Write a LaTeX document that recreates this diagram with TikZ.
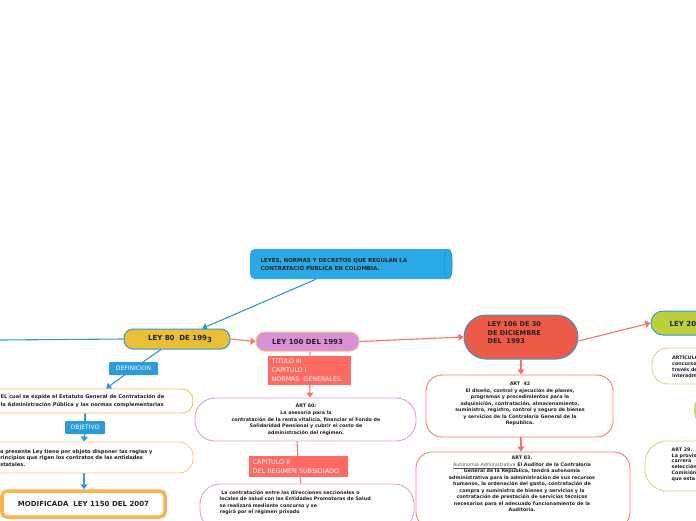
\documentclass[tikz,border=0pt]{standalone}
\usepackage{fontspec}
\setmainfont{DejaVu Sans}
\usetikzlibrary{arrows.meta}
\pgfdeclarelayer{back}
\pgfdeclarelayer{bg}
\pgfsetlayers{back,bg,main}
\definecolor{cblue}{HTML}{29AAE6}
\definecolor{capblue}{HTML}{1E8FC8}
\definecolor{lblue}{HTML}{2D9BDB}
\definecolor{gold}{HTML}{EBBF33}
\definecolor{orchid}{HTML}{D990D6}
\definecolor{orchidb}{HTML}{DCA0DB}
\definecolor{salmon}{HTML}{FA7268}
\definecolor{salmonb}{HTML}{F47E76}
\definecolor{labred}{HTML}{FF6B63}
\definecolor{redsix}{HTML}{EE5A48}
\definecolor{ygreen}{HTML}{BDD23A}
\definecolor{lgreen}{HTML}{C3E081}
\definecolor{goldb}{HTML}{EFC34F}
\definecolor{lorange}{HTML}{F8CB88}
\definecolor{orangeb}{HTML}{FDB24C}
\definecolor{peach}{HTML}{F3C27E}
\definecolor{txt}{HTML}{222222}
\definecolor{undergray}{HTML}{555555}
\begin{document}
\begin{tikzpicture}[x=1pt,y=-1pt,
  box/.style={draw, line width=0.9pt, fill=white, inner sep=0pt},
  leynode/.style={draw=lblue, line width=1pt, inner sep=0pt, text=txt, font=\bfseries\fontsize{7}{8.5}\selectfont},
  lab/.style={fill=labred, text=white, inner sep=0pt, font=\fontsize{5.8}{8.8}\selectfont},
  bluelab/.style={fill=lblue, text=white, inner sep=0pt, rounded corners=1pt, font=\fontsize{6}{7}\selectfont},
  ftext/.style={text=txt, inner sep=0pt, font=\bfseries\fontsize{4.8}{6.5}\selectfont},
  conn/.style={line width=1.1pt},
  tip/.style={-{Triangle[width=7pt,length=5pt]}}
]
\begin{pgfonlayer}{back}
\fill[white] (0,0) rectangle (696,520);
\end{pgfonlayer}
\useasboundingbox (0,0) rectangle (696,520);

% top node
\node[fill=cblue, rounded corners=5pt, minimum width=202pt, minimum height=30pt, inner sep=0pt] (top) at (351,264) {};
\draw[capblue, line width=0.6pt] ([xshift=-4pt]top.east) ellipse [x radius=4pt, y radius=15pt];
\node[anchor=west, align=left, text=txt, inner sep=0pt, font=\bfseries\fontsize{5.5}{8}\selectfont] (toptxt) at (260.5,264.7) {LEYES, NORMAS Y DECRETOS QUE REGULAN LA\\CONTRATACIÓ PUBLICA EN COLOMBIA.};

% main law nodes
\node[leynode, fill=gold, minimum width=106pt, minimum height=20pt, rounded corners=9pt] (ley80) at (177,339) {\hspace{6pt}LEY 80\ \ DE 199\raisebox{-0.35ex}{3}};
\node[leynode, draw=peach, fill=orchid, minimum width=103pt, minimum height=19pt, rounded corners=9pt] (ley100) at (307.5,341.5) {LEY 100 DEL 1993};
\node[leynode, fill=redsix, minimum width=114pt, minimum height=44pt, rounded corners=22pt] (ley106) at (521,337) {};
\node[anchor=west, align=left, text=txt, inner sep=0pt, font=\bfseries\fontsize{6.6}{8.5}\selectfont] (ley106t) at (487.5,333) {LEY 106 DE 30\\DE DICIEMBRE\\DEL\ \ 1993};
\node[leynode, fill=ygreen, minimum width=98pt, minimum height=24pt, rounded corners=12pt] (ley20) at (700,323) {};
\node[anchor=west, text=txt, inner sep=0pt, font=\bfseries\fontsize{7}{8.5}\selectfont] (ley20t) at (669.5,323.5) {LEY 20};

% left branch
\coordinate (lft) at (0,340);
\node[bluelab, minimum width=49pt, minimum height=13pt] (defi) at (133.5,368.5) {DEFINICION};
\node[box, draw=goldb, minimum width=213pt, minimum height=24pt, rounded corners=11pt] (box1) at (86.5,401) {};
\node[anchor=west, align=left, text=txt, inner sep=0pt, font=\bfseries\fontsize{5.1}{7.7}\selectfont] (box1t) at (0.5,401.2) {EL cual se expide el Estatuto General de Contratación de\\la Administración Pública y las normas complementarias};
\node[bluelab, minimum width=40pt, minimum height=13pt] (obj) at (85,427.5) {OBJETIVO};
\node[box, draw=lorange, minimum width=213pt, minimum height=31pt, rounded corners=14pt] (box2) at (86.5,457.5) {};
\node[anchor=west, align=left, text=txt, inner sep=0pt, font=\bfseries\fontsize{5.1}{6.6}\selectfont] (box2t) at (-3.4,457.8) {La presente Ley tiene por objeto disponer las reglas y\\principios que rigen los contratos de las entidades\\estatales.};
\node[box, draw=orangeb, line width=3.5pt, minimum width=163pt, minimum height=26pt, rounded corners=5pt, text=txt, font=\bfseries\fontsize{7}{8.5}\selectfont] (box3) at (83.5,504) {MODIFICADA\ \ LEY 1150 DEL 2007};

% LEY 100 branch
\node[lab, minimum width=83pt, minimum height=29pt] (tit) at (309.5,370.5) {};
\node[anchor=west, align=left, text=white, inner sep=0pt, font=\fontsize{6.3}{8.8}\selectfont] (titt) at (271.5,370) {TITULO III\\CAPITULO I\\NORMAS\ \ GENERALES.};
\node[box, draw=orchidb, minimum width=221pt, minimum height=43pt, rounded corners=20pt] (art60) at (305.5,419.5) {};
\node[ftext, align=center, font=\bfseries\fontsize{4.8}{6.7}\selectfont] (art60t) at (306,420) {ART 60:\\La asesoría para la\\contratación de la renta vitalicia, financiar el Fondo de\\Solidaridad Pensional y cubrir el costo de\\administración del régimen.};
\node[lab, minimum width=99pt, minimum height=21pt] (cap2) at (298.5,466.5) {};
\node[anchor=west, align=left, text=white, inner sep=0pt, font=\fontsize{6.4}{9}\selectfont] (cap2t) at (252.5,465.8) {CAPÍTULO II\\DEL REGIMEN SUBSIDIADO};
\node[box, draw=orchidb, minimum width=214pt, minimum height=46pt, rounded corners=20pt] (sub) at (307,507) {};
\node[ftext, anchor=west, align=left] (subt) at (219.5,502.4) {\ La contratación entre las direcciones seccionales o\\locales de salud con las Entidades Promotoras de Salud\\se realizará mediante concurso y se\\regirá por el régimen privado};

% LEY 106 branch
\node[box, draw=salmonb, minimum width=187pt, minimum height=62pt, rounded corners=16pt] (art42) at (519.5,406) {};
\node[ftext, align=center] (art42t) at (520,403.8) {ART\ \ 42\\El diseño, control y ejecución de planes,\\programas y procedimientos para la\\adquisición, contratación, almacenamiento,\\suministro, registro, control y seguro de bienes\\y servicios de la Contraloría General de la\\República.};
\node[box, draw=salmonb, minimum width=214pt, minimum height=76pt, rounded corners=16pt] (art83) at (523,490) {};
\node[ftext, align=center, font=\bfseries\fontsize{4.8}{6.45}\selectfont] (art83t) at (522,484) {ART 83.\\\textcolor{undergray}{\mdseries\underline{Autonomía Administrativa}} El Auditor de la Contraloría\\General de la República, tendrá autonomía\\administrativa para la administración de sus recursos\\humanos, la ordenación del gasto, contratación de\\compra y suministro de bienes y servicios y la\\contratación de prestación de servicios técnicos\\necesarios para el adecuado funcionamiento de la\\Auditoría.};

% right branch
\node[box, draw=lgreen, minimum width=96pt, minimum height=36pt, rounded corners=16pt] (artr1) at (700,366) {};
\node[ftext, anchor=west, align=left, font=\bfseries\fontsize{4.8}{6}\selectfont] (artr1t) at (672,366) {ARTÍCULO\\concurso\\través de\\interadmin};
\node[circle, fill=ygreen!85!white, minimum size=44pt, inner sep=0pt] (circ) at (716,410) {};
\node[box, draw=lgreen, minimum width=100pt, minimum height=50pt, rounded corners=22pt] (artr2) at (695,466) {};
\node[ftext, anchor=west, align=left, font=\bfseries\fontsize{4.8}{5.8}\selectfont] (artr2t) at (671.5,464.5) {ART 29.\\La provisión\\carrera\\selección\\Comisión\\que esta};

% connectors
\begin{pgfonlayer}{bg}
\draw[conn, lblue, tip] ([xshift=-35pt]top.south) -- ([xshift=25pt]ley80.north);
\draw[conn, lblue] (lft) -- (ley80.west);
\draw[conn, salmon, tip] (ley80.east) -- (ley100.west);
\draw[conn, salmon, tip] (ley100.east) -- ([yshift=0pt]ley106.west);
\draw[conn, salmon, tip] ([yshift=-4pt]ley106.east) -- (ley20.west);
\draw[conn, lblue] ([xshift=-16pt]ley80.south) -- (defi.center);
\draw[conn, lblue, tip] (defi.center) -- ([xshift=19.5pt]box1.north);
\draw[conn, lblue] ([xshift=-1.5pt]box1.south) -- (obj.center);
\draw[conn, lblue, tip] (obj.center) -- ([xshift=-2.5pt]box2.north);
\draw[conn, lblue, tip] ([xshift=-2.5pt]box2.south) -- ([xshift=0.5pt]box3.north);
\draw[conn, salmon] ([xshift=2.5pt]ley100.south) -- (tit.center);
\draw[conn, salmon, tip] (tit.center) -- ([xshift=4.5pt]art60.north);
\draw[conn, salmon] ([xshift=-8.5pt]art60.south) -- (cap2.center);
\draw[conn, salmon] (cap2.center) -- ([xshift=-6pt]sub.north);
\draw[conn, salmon, tip] (ley106.south) -- ([xshift=1.5pt]art42.north);
\draw[conn, salmon, tip] ([xshift=1.5pt]art42.south) -- ([xshift=-2pt]art83.north);
\end{pgfonlayer}
\end{tikzpicture}
\end{document}
